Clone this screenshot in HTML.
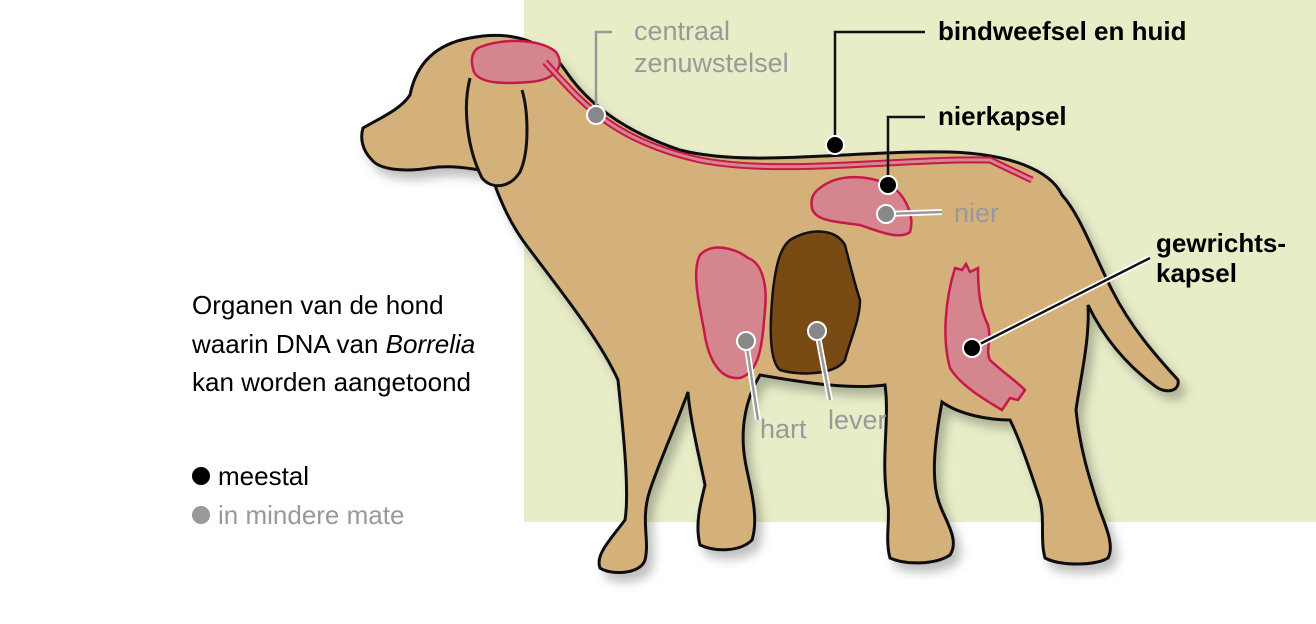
<!DOCTYPE html>
<html><head><meta charset="utf-8"><style>
body{margin:0;width:1316px;height:624px;background:#fff;overflow:hidden;font-family:"Liberation Sans",sans-serif}
svg{position:absolute;left:0;top:0}
</style></head><body>
<svg width="1316" height="624" viewBox="0 0 1316 624">
<defs><filter id="sh" x="-10%" y="-10%" width="130%" height="130%"><feDropShadow dx="6" dy="8" stdDeviation="5" flood-color="#000" flood-opacity="0.25"/></filter></defs>
<rect x="524" y="0" width="792" height="522" fill="#e8edc8"/>
<g filter="url(#sh)">
<path d="M363,128 C380,118 400,110 410,95 C415,70 430,45 470,38 C510,30 545,40 565,70 C585,100 620,130 680,150 C750,168 850,150 950,152 C1010,154 1050,170 1062,195 C1080,215 1092,250 1112,290 C1132,330 1160,360 1178,380 C1180,392 1165,394 1155,386 C1120,360 1100,330 1088,305 C1090,340 1080,380 1076,410 C1080,450 1090,480 1098,505 C1105,525 1115,545 1108,558 C1095,566 1060,566 1045,558 C1040,540 1045,520 1040,500 C1030,470 1020,440 1010,420 C990,420 960,415 942,402 C935,440 930,480 940,505 C945,520 960,540 950,555 C935,565 905,565 890,558 C885,540 890,520 888,505 C880,460 890,420 885,385 C850,390 800,382 760,375 C745,400 740,430 745,460 C748,480 760,515 752,540 C740,552 715,552 700,545 C695,525 700,505 705,485 C700,460 690,420 688,392 C678,420 660,460 650,490 C640,520 650,540 645,560 C640,575 610,575 600,568 C595,555 610,540 625,520 C630,490 622,420 618,380 C600,340 560,290 530,250 C510,225 500,200 490,172 C470,168 450,165 430,168 C405,172 380,170 372,160 C362,150 360,138 363,128 Z" fill="#d4b07a" stroke="#111" stroke-width="3"/>
</g>
<path d="M470,78 C462,110 468,150 482,178 C492,190 510,188 520,172 C530,150 528,110 522,90" fill="#d4b07a" stroke="#111" stroke-width="3"/>
<path d="M478,48 C500,38 540,38 556,52 C566,66 555,80 530,82 C505,84 480,84 474,72 C470,60 472,52 478,48 Z" fill="#d4858e" stroke="#c8184a" stroke-width="2.5"/>
<path d="M545,62 C580,100 610,140 700,160 C780,176 900,158 990,160 L1032,180" fill="none" stroke="#c8184a" stroke-width="7"/>
<path d="M545,62 C580,100 610,140 700,160 C780,176 900,158 990,160 L1032,180" fill="none" stroke="#d4858e" stroke-width="3"/>
<path d="M820,188 C840,172 870,176 890,185 C905,195 915,215 910,232 C900,240 880,232 860,225 C840,222 815,222 812,208 C810,198 814,192 820,188 Z" fill="#d4858e" stroke="#c8184a" stroke-width="2.5"/>
<path d="M700,255 C712,242 735,248 748,258 C760,262 768,280 765,310 C762,345 760,372 740,378 C720,380 708,360 704,330 C698,300 692,270 700,255 Z" fill="#d4858e" stroke="#c8184a" stroke-width="2.5"/>
<path d="M790,240 C810,228 835,228 845,245 C850,265 855,285 860,300 C860,320 850,340 845,360 C835,375 800,376 780,370 C768,360 770,320 773,290 C776,265 780,248 790,240 Z" fill="#7a4a14" stroke="#111" stroke-width="2.5"/>
<path d="M955,268 L962,270 L966,264 L970,272 L978,268 C978,290 980,310 988,325 C992,340 985,350 990,360 C1000,370 1015,380 1025,390 L1018,400 L1010,398 L1002,410 C985,400 960,385 950,368 C942,340 945,300 955,268 Z" fill="#d4858e" stroke="#c8184a" stroke-width="2.5"/>
<g stroke-width="2.5" fill="none">
<path d="M596,115 V32 H612" stroke="#999"/>
<path d="M835,145 V32 H925" stroke="#111"/>
<path d="M888,185 V117 H925" stroke="#111"/>
<path d="M886,214 L942,212" stroke="#fff" stroke-width="6"/>
<path d="M886,214 L942,212" stroke="#999"/>
<path d="M972,348 L1150,258" stroke="#fff" stroke-width="6"/>
<path d="M972,348 L1150,258" stroke="#111"/>
<path d="M746,341 L758,420" stroke="#fff" stroke-width="6"/>
<path d="M746,341 L758,420" stroke="#999"/>
<path d="M817,331 L830,400" stroke="#fff" stroke-width="6"/>
<path d="M817,331 L830,400" stroke="#999"/>
</g>
<g stroke="#fff" stroke-width="2">
<circle cx="596" cy="115" r="9" fill="#888"/>
<circle cx="835" cy="145" r="9" fill="#000"/>
<circle cx="888" cy="185" r="9" fill="#000"/>
<circle cx="886" cy="214" r="9" fill="#888"/>
<circle cx="972" cy="348" r="9" fill="#000"/>
<circle cx="746" cy="341" r="9" fill="#888"/>
<circle cx="817" cy="331" r="9" fill="#888"/>
</g>
<g font-family="Liberation Sans, sans-serif" font-size="26">
<text x="634" y="40" fill="#999" font-size="27">centraal</text>
<text x="634" y="72" fill="#999" font-size="27">zenuwstelsel</text>
<text x="938" y="40" fill="#000" font-weight="bold">bindweefsel en huid</text>
<text x="938" y="125" fill="#000" font-weight="bold">nierkapsel</text>
<text x="954" y="222" fill="#999" font-size="27">nier</text>
<text x="1156" y="252" fill="#000" font-weight="bold">gewrichts-</text>
<text x="1156" y="282" fill="#000" font-weight="bold">kapsel</text>
<text x="760" y="438" fill="#999" font-size="27">hart</text>
<text x="828" y="429" fill="#999" font-size="27">lever</text>
<text x="192" y="314" fill="#000">Organen van de hond</text>
<text x="192" y="353" fill="#000">waarin DNA van <tspan font-style="italic">Borrelia</tspan></text>
<text x="192" y="391" fill="#000">kan worden aangetoond</text>
<circle cx="201" cy="476" r="9" fill="#000"/>
<text x="218" y="485" fill="#000">meestal</text>
<circle cx="201" cy="515" r="9" fill="#999"/>
<text x="218" y="524" fill="#999">in mindere mate</text>
</g>
</svg>
</body></html>
